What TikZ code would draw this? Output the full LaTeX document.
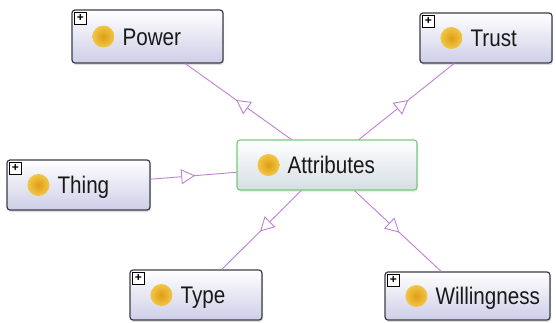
\documentclass[tikz,border=0pt]{standalone}
\usepackage{fontspec}
\setmainfont{Liberation Sans}
\usetikzlibrary{arrows.meta,decorations.markings,shadows}
\definecolor{boxline}{RGB}{60,60,72}
\definecolor{boxfill}{RGB}{206,206,232}
\definecolor{attrline}{RGB}{122,200,122}
\definecolor{attrfill}{RGB}{214,222,226}
\definecolor{isaline}{RGB}{190,130,210}
\definecolor{dotin}{RGB}{222,158,22}
\definecolor{dotout}{RGB}{242,198,70}
\tikzset{
  classbox/.style={draw=boxline, line width=1.2pt, rounded corners=3pt, top color=white, bottom color=boxfill,
    drop shadow={shadow xshift=1pt, shadow yshift=-2pt, opacity=0.25}},
  attrbox/.style={draw=attrline, line width=1.1pt, rounded corners=3pt, top color=white, bottom color=attrfill,
    drop shadow={shadow xshift=1pt, shadow yshift=-2pt, opacity=0.15}},
  classtext/.style={anchor=base west, inner sep=0pt, text=black!90, font=\fontsize{24}{24}\selectfont},
  plusbox/.style={draw=black, fill=white, line width=0.6pt, minimum size=12pt, inner sep=0pt,
    font=\fontsize{12}{12}\selectfont\bfseries},
  isa/.style={draw=isaline, line width=0.9pt, postaction={decorate},
    decoration={markings, mark=at position 0.52 with {\arrow{Triangle[fill=white, length=14pt, width=15pt]}}}}
}
\def\classnode[#1](#2)(#3)(#4,#5)#6{%
  \node[#1, minimum width=#4pt, minimum height=#5pt] (#2) at (#3) {};
  \shade[inner color=dotin, outer color=dotout] ([xshift=32pt]#2.west) circle (11pt);
  \node[classtext] at ([xshift=51pt, yshift=-8.5pt]#2.west) {\scalebox{0.86}[1]{#6}};
}
\def\plusmark(#1){\node[plusbox] at ([xshift=9pt, yshift=-9pt]#1.north west) {+};}

\begin{document}
\begin{tikzpicture}[x=1pt, y=-1pt]
		%%%%% START %%%%%
		\useasboundingbox[fill=white] (0, 0) rectangle (556, 322);
		
		\classnode[attrbox](attr)(327, 165)(180, 50){Attributes}
		
		\classnode[classbox](power)(147.5, 36.5)(151, 53){Power}
		\plusmark(power)
		\classnode[classbox](trust)(486, 38)(132, 50){Trust}
		\plusmark(trust)
		\classnode[classbox](thing)(78.5, 185)(143, 50){Thing}
		\plusmark(thing)
		\classnode[classbox](type)(196, 295)(132, 50){Type}
		\plusmark(type)
		\classnode[classbox](will)(467.5, 296)(165, 48){Willingness}
		\plusmark(will)
		
		\draw[isa] (attr) -- (power);
		\draw[isa] (attr) -- (trust);
		\draw[isa] (thing) -- (attr);
		\draw[isa] (attr) -- (type);
		\draw[isa] (attr) -- (will);
		%%%%% END %%%%%
\end{tikzpicture}
\end{document}
